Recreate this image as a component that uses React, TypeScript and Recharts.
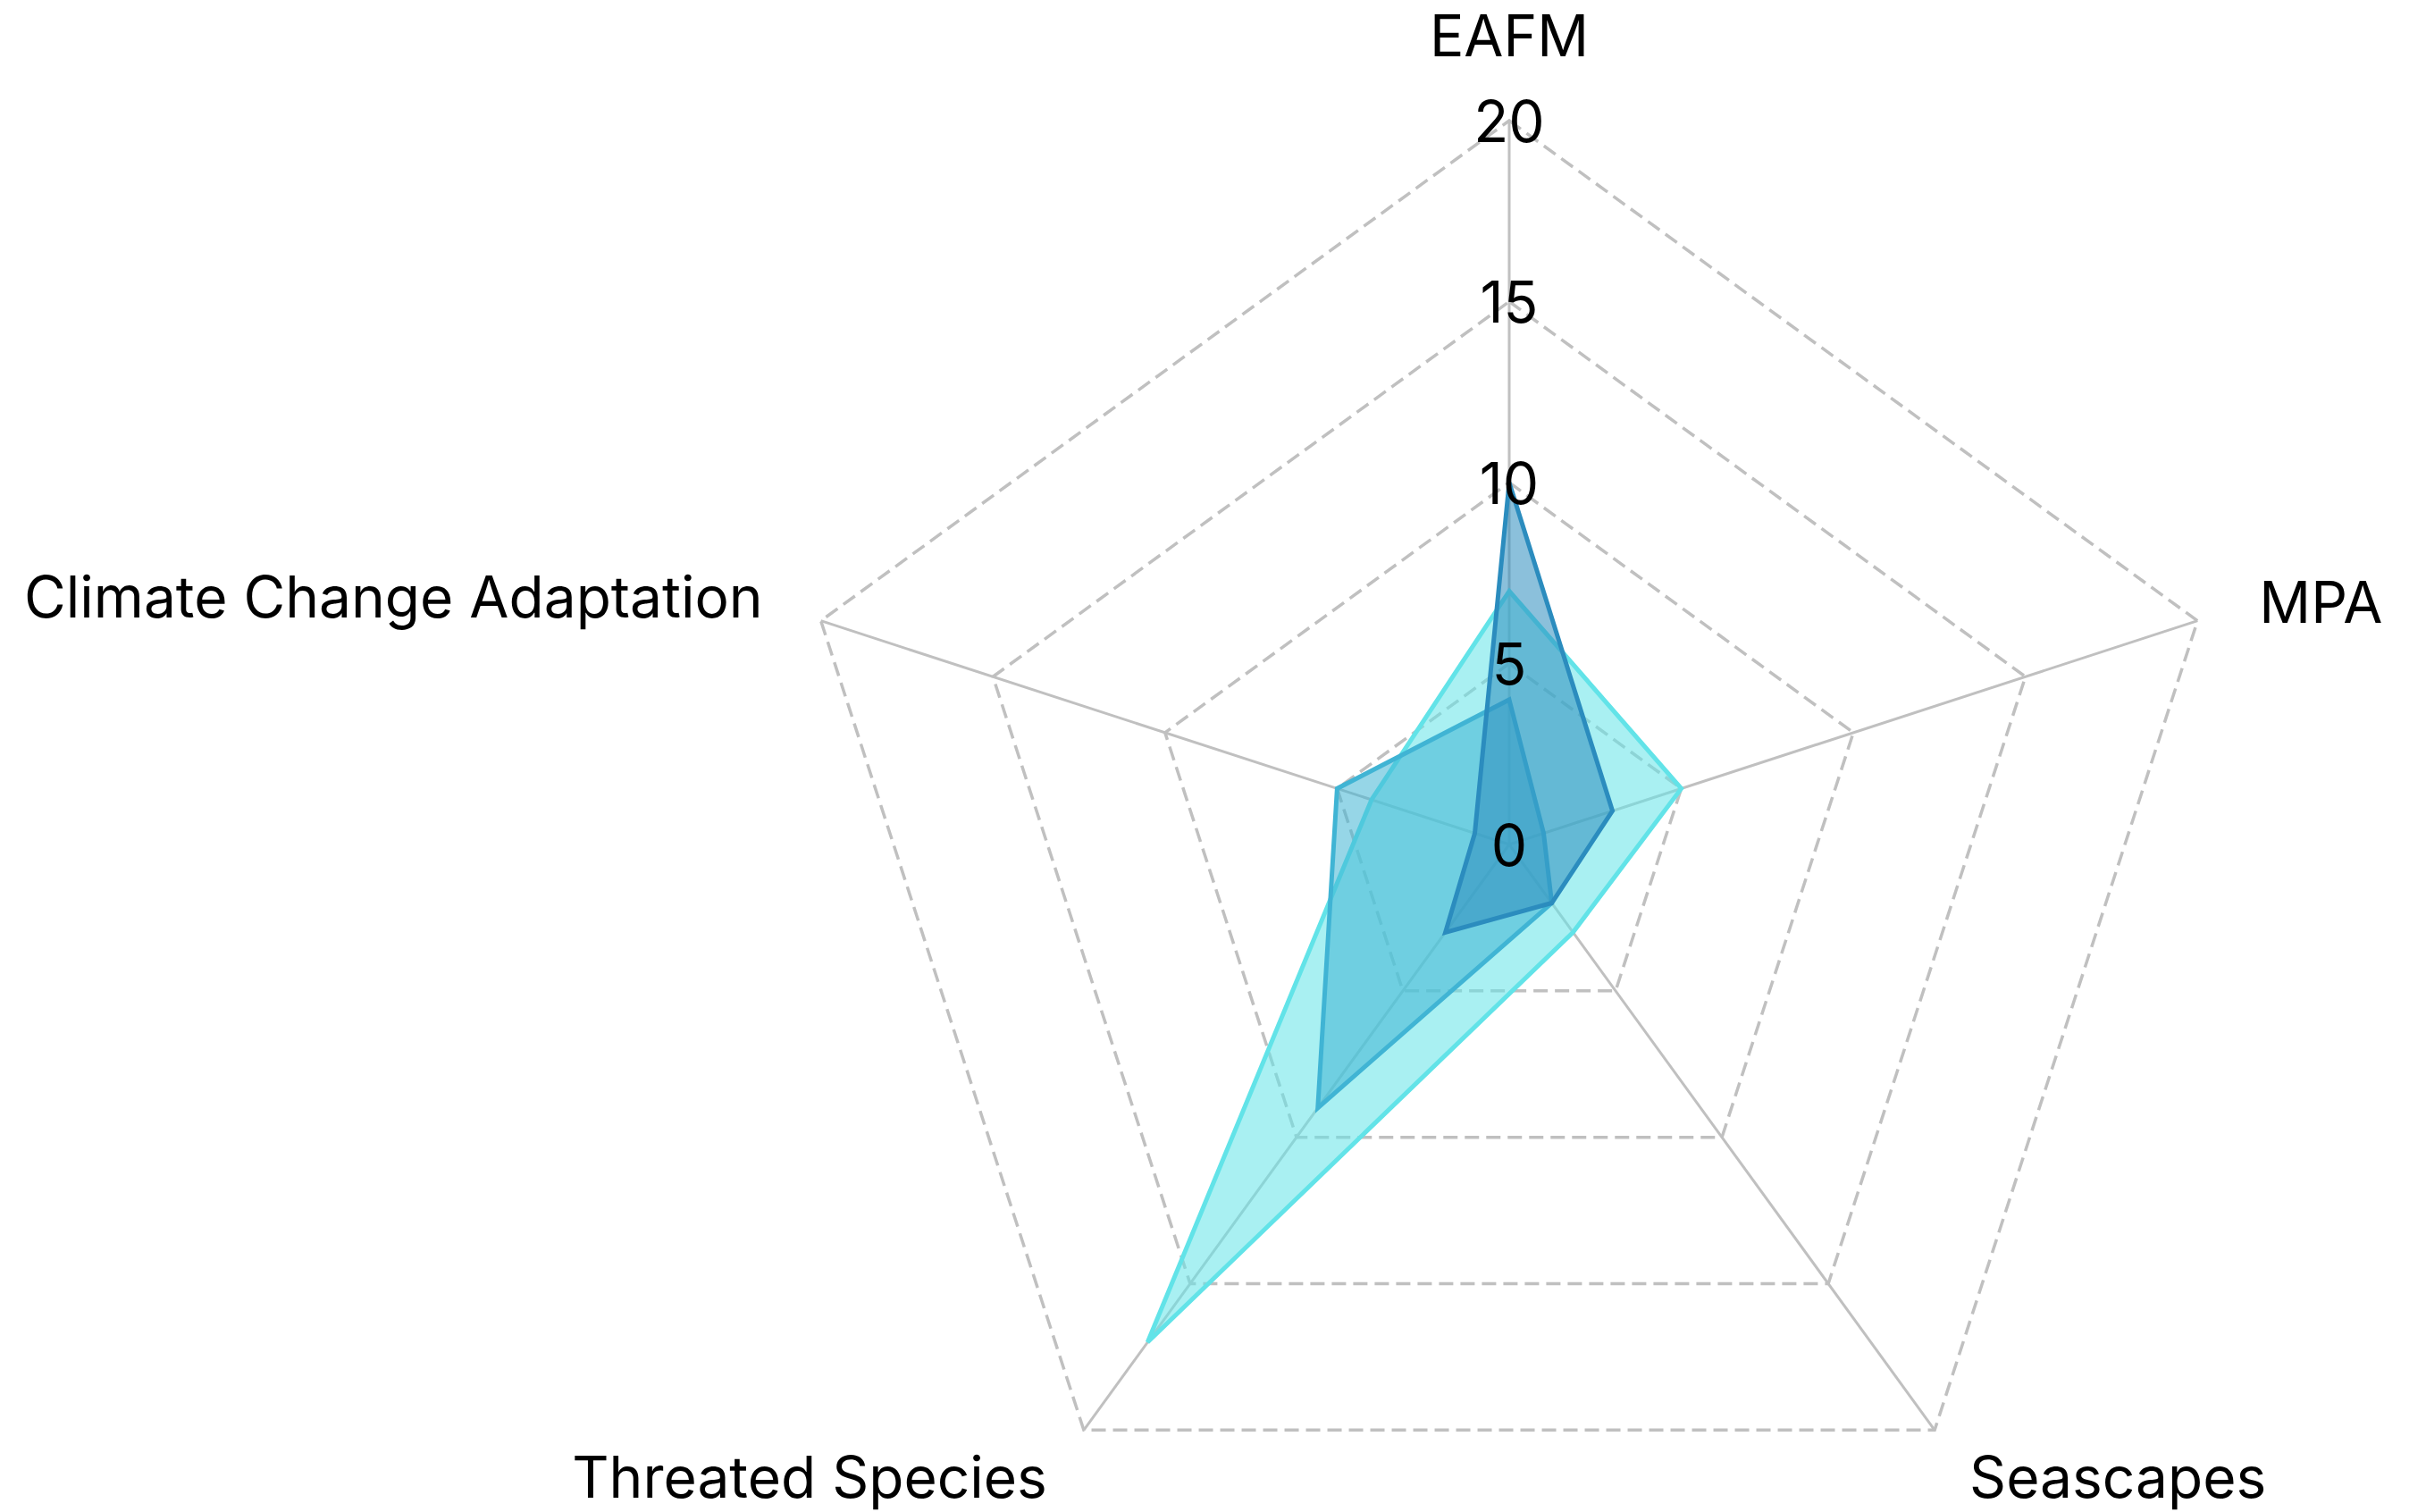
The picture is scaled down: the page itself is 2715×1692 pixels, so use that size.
import React from "react";
import {
  RadarChart,
  Radar,
  PolarGrid,
  PolarAngleAxis,
  PolarRadiusAxis,
} from "recharts";

const categories = ["EAFM", "MPA", "Seascapes", "Threated Species", "Climate Change Adaptation"];
const seriesDark = [10, 3, 2, 3, 1];
const seriesMid = [4, 1, 2, 9, 5];
const seriesCyan = [7, 5, 3, 17, 4];
const radiusTicks = [0, 5, 10, 15, 20];

const data = categories.map((subject, i) => ({
  subject,
  dark: seriesDark[i],
  mid: seriesMid[i],
  cyan: seriesCyan[i],
}));

const W = 2715;
const H = 1692;
const CX = 1689;
const CY = 945;
const R = 810;
const FONT = "Inter, 'Noto Sans', sans-serif";
const FS = 64;

const AngleTick = (props: any) => {
  const { x, y, payload } = props;
  const len = Math.hypot(x - CX, y - CY) || 1;
  const ux = (x - CX) / len;
  const uy = (y - CY) / len;
  const vx = CX + ux * R;
  const vy = CY + uy * R;
  let anchor: "start" | "end" | "middle" = "middle";
  let dx = 0;
  let dy = 0;
  if (uy < -0.9) {
    dy = -72;
  } else if (Math.abs(uy) < 0.5) {
    anchor = ux > 0 ? "start" : "end";
    dx = ux > 0 ? 69 : -65;
    dy = ux > 0 ? 2 : -4;
  } else {
    anchor = ux > 0 ? "start" : "end";
    dx = ux > 0 ? 39 : -41;
    dy = 76;
  }
  return (
    <text
      x={vx + dx}
      y={vy + dy}
      textAnchor={anchor}
      fontFamily={FONT}
      fontSize={FS}
      fill="#000"
    >
      {payload.value}
    </text>
  );
};

const RadiusTick = (props: any) => {
  const { x, y, payload } = props;
  return (
    <text
      x={x}
      y={y}
      textAnchor="middle"
      dominantBaseline="central"
      fontFamily={FONT}
      fontSize={FS}
      fill="#000"
    >
      {payload.value}
    </text>
  );
};

export default function App() {
  return (
    <div style={{ position: "absolute", left: 0, top: 0, width: W, height: H, background: "#fff" }}>
      <RadarChart
        width={W}
        height={H}
        data={data}
        cx={CX}
        cy={CY}
        outerRadius={R}
        margin={{ top: 0, right: 0, bottom: 0, left: 0 }}
      >
        <PolarGrid
          gridType="polygon"
          radialLines={false}
          stroke="#c0c0c0"
          strokeWidth={3.5}
          strokeDasharray="16 8"
        />
        <PolarGrid
          gridType="polygon"
          polarRadius={[0]}
          stroke="#c0c0c0"
          strokeWidth={3}
        />
        <PolarAngleAxis
          dataKey="subject"
          tickLine={false}
          axisLine={false}
          tickSize={0}
          tick={<AngleTick />}
        />
        <Radar
          dataKey="cyan"
          stroke="#62e3e8"
          strokeWidth={5}
          fill="#62e3e8"
          fillOpacity={0.55}
          dot={false}
          isAnimationActive={false}
        />
        <Radar
          dataKey="mid"
          stroke="#40b4d4"
          strokeWidth={5}
          fill="#40b4d4"
          fillOpacity={0.55}
          dot={false}
          isAnimationActive={false}
        />
        <Radar
          dataKey="dark"
          stroke="#2b8cbe"
          strokeWidth={5}
          fill="#2b8cbe"
          fillOpacity={0.55}
          dot={false}
          isAnimationActive={false}
        />
        <PolarRadiusAxis
          angle={90}
          domain={[0, 20]}
          ticks={radiusTicks as any}
          tickCount={5}
          axisLine={false}
          tickLine={false}
          tick={<RadiusTick />}
        />
      </RadarChart>
    </div>
  );
}
